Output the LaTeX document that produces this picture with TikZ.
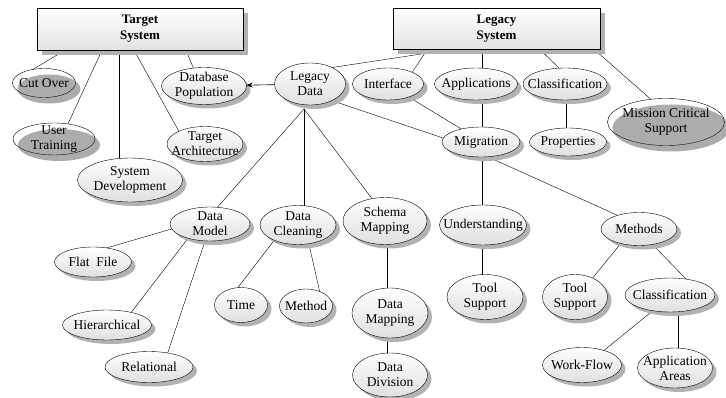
\documentclass[tikz,border=0pt]{standalone}
\usepackage{fontspec}
\setmainfont{Liberation Serif}
\usetikzlibrary{shapes.geometric, shadows, calc, backgrounds, arrows.meta}

\tikzset{
  sysbox/.style={draw, rectangle, minimum width=206pt, minimum height=42pt, align=center,
    font=\fontsize{13}{16}\selectfont\bfseries, top color=white, bottom color=gray!22,
    drop shadow={shadow xshift=5pt, shadow yshift=-5pt, fill=gray!60, opacity=1}},
  txt/.style={align=center, font=\fontsize{13.5}{15}\selectfont, inner sep=0pt},
  ell/.style 2 args={ellipse, draw, minimum width=#1, minimum height=#2, inner sep=0pt,
    top color=white, bottom color=gray!25,
    drop shadow={shadow xshift=4pt, shadow yshift=-4pt, fill=gray!60, opacity=1}},
  dark/.style 2 args={ellipse, draw, fill=white, minimum width=#1, minimum height=#2, inner sep=0pt,
    drop shadow={shadow xshift=5pt, shadow yshift=-6pt, fill=gray!65, opacity=1},
    path picture={\fill[gray!65] ([xshift=5pt, yshift=-6pt]path picture bounding box.center)
      ellipse [x radius=#1/2, y radius=#2/2];}},
  link/.style={line width=0.6pt},
}

\begin{document}
\begin{tikzpicture}[x=1pt, y=-1pt]
  \useasboundingbox (0,0) rectangle (726,398);

  % 1. The two system boxes
  \node[sysbox] (tgt) at (140,29) {Target\\System};
  \node[sysbox, minimum width=207pt, minimum height=41pt] (lsys) at (496.5,28.5) {Legacy\\System};

  % 2. Target side
  \node[dark={63pt}{29pt}, label={[txt]center:Cut Over}] (cut) at (44,83) {};
  \node[dark={82pt}{32pt}, label={[txt]center:{User\\Training}}] (utrain) at (54,139) {};
  \node[ell={105pt}{44pt}, label={[txt]center:{System\\Development}}] (sysdev) at (130,180) {};
  \node[ell={76pt}{35pt}, label={[txt]center:{Target\\Architecture}}] (tarch) at (205,144) {};
  \node[ell={85pt}{37pt}, label={[txt]center:{Database\\Population}}] (dbpop) at (204,86) {};

  % 3. Legacy side, first row
  \node[ell={71pt}{42pt}, label={[txt]center:{Legacy\\Data}}] (ldata) at (310,84) {};
  \node[ell={71pt}{32pt}, label={[txt]center:Interface}] (iface) at (388,84) {};
  \node[ell={83pt}{32pt}, label={[txt]center:Applications}] (apps) at (476,84) {};
  \node[ell={84pt}{32pt}, label={[txt]center:Classification}] (lclass) at (565,84) {};
  \node[dark={117pt}{47pt}, label={[txt]center:{Mission Critical\\Support}}] (mcs) at (666,122) {};
  \node[ell={77pt}{28pt}, label={[txt]center:Properties}] (props) at (568,142) {};
  \node[ell={78pt}{30pt}, label={[txt]center:Migration}] (migr) at (481,142) {};

  % 4. Second row
  \node[ell={80pt}{34pt}, label={[txt]center:{Data\\Model}}] (dmodel) at (210,224) {};
  \node[ell={76pt}{39pt}, label={[txt]center:{Data\\Cleaning}}] (dclean) at (298,225) {};
  \node[ell={84pt}{47pt}, label={[txt]center:{Schema\\Mapping}}] (schema) at (385,221) {};
  \node[ell={87pt}{40pt}, label={[txt]center:Understanding}] (under) at (483,225) {};
  \node[ell={76pt}{33pt}, label={[txt]center:Methods}] (methods) at (639,229) {};

  % 5. Leaves
  \node[ell={77pt}{30pt}, label={[txt]center:Flat\ \ File}] (flat) at (93,262) {};
  \node[ell={89pt}{30pt}, label={[txt]center:Hierarchical}] (hier) at (107,325) {};
  \node[ell={88pt}{31pt}, label={[txt]center:Relational}] (rel) at (149,367) {};
  \node[ell={53pt}{35pt}, label={[txt]center:Time}] (time) at (241,305) {};
  \node[ell={53pt}{34pt}, label={[txt]center:Method}] (method) at (306,306) {};
  \node[ell={76pt}{50pt}, label={[txt]center:{Data\\Mapping}}] (dmap) at (390,313) {};
  \node[ell={75pt}{44pt}, label={[txt]center:{Data\\Division}}] (ddiv) at (390,375) {};
  \node[ell={76pt}{45pt}, label={[txt]center:{Tool\\Support}}] (tsl) at (485,297) {};
  \node[ell={65pt}{45pt}, label={[txt]center:{Tool\\Support}}] (tsr) at (575,297) {};
  \node[ell={90pt}{34pt}, label={[txt]center:Classification}] (mclass) at (670,295) {};
  \node[ell={79pt}{35pt}, label={[txt]center:Work-Flow}] (wflow) at (582,365) {};
  \node[ell={75pt}{40pt}, label={[txt]center:{Application\\Areas}}] (areas) at (675,368) {};

  \coordinate (ldfork) at ($(ldata)+(-6,25)$);

  % 6. Connectors, kept behind the nodes
  \begin{scope}[on background layer, link]
    \draw ($(tgt.south)+(-75,0)$) -- ($(cut)+(-12,-13)$);
    \draw ($(tgt.south)+(-38,0)$) -- ($(utrain)+(13,-13)$);
    \draw ($(tgt.south)+(-21,0)$) -- ($(sysdev)+(-11,-20)$);
    \draw ($(tgt.south)+(-6,0)$) -- ($(tarch)+(-24,-9)$);
    \draw ($(tgt.south)+(46,0)$) -- ($(dbpop)+(-9,-14)$);

    \draw ($(lsys.south)+(-43.5,0)$) -- ($(ldata)+(19,-16)$);
    \draw ($(lsys.south)+(-69,0)$) -- ($(iface)+(23,-10)$);
    \draw ($(lsys.south)+(-14.5,0)$) -- ($(apps)+(6,-14)$);
    \draw ($(lsys.south)+(43,0)$) -- ($(lclass)+(-3,-13)$);
    \draw ($(lsys.south)+(97.5,0)$) -- ($(mcs)+(-11,-19)$);

    \draw ($(lclass)+(1,12)$) -- ($(props)+(-2,-10)$);
    \draw ($(apps)+(6,12)$) -- ($(migr)+(1,-10)$);
    \draw ($(iface)+(19,12)$) -- ($(migr)+(-18,-12)$);
    \draw ($(ldata)+(20,16)$) -- ($(migr)+(-35,-3)$);

    \draw (ldfork) -- ($(dmodel)+(5,-14)$);
    \draw (ldfork) -- ($(dclean)+(6,-16)$);
    \draw (ldfork) -- ($(schema)+(-12,-21)$);

    \draw ($(dmodel)+(-35,4)$) -- ($(flat)+(10,-13)$);
    \draw ($(dmodel)+(-21,13)$) -- ($(hier)+(23,-11)$);
    \draw ($(dmodel)+(-4,14)$) -- ($(rel)+(18,-12)$);
    \draw ($(dclean)+(-22,13)$) -- ($(time)+(-5,-15)$);
    \draw ($(dclean)+(10,15)$) -- ($(method)+(14,-13)$);
    \draw ($(schema)+(2,20)$) -- ($(dmap)+(-3,-20)$);
    \draw ($(dmap)+(-3,20)$) -- ($(ddiv)+(-3,-18)$);

    \draw ($(migr)+(1,12)$) -- ($(under)+(-1,-17)$);
    \draw ($(under)+(-1,17)$) -- ($(tsl)+(-3,-19)$);
    \draw ($(migr)+(5,14)$) -- ($(methods)+(-20,-13)$);
    \draw ($(methods)+(-17,13)$) -- ($(tsr)+(16,-17)$);
    \draw ($(methods)+(12,14)$) -- ($(mclass)+(18,-14)$);
    \draw ($(mclass)+(-15,14)$) -- ($(wflow)+(20,-13)$);
    \draw ($(mclass)+(8,14)$) -- ($(areas)+(3,-17)$);
  \end{scope}

  % 7. Legacy data feeds the database population
  \draw[link, -{Stealth[length=6pt, width=5pt]}] (ldata) -- (dbpop);

\end{tikzpicture}
\end{document}
